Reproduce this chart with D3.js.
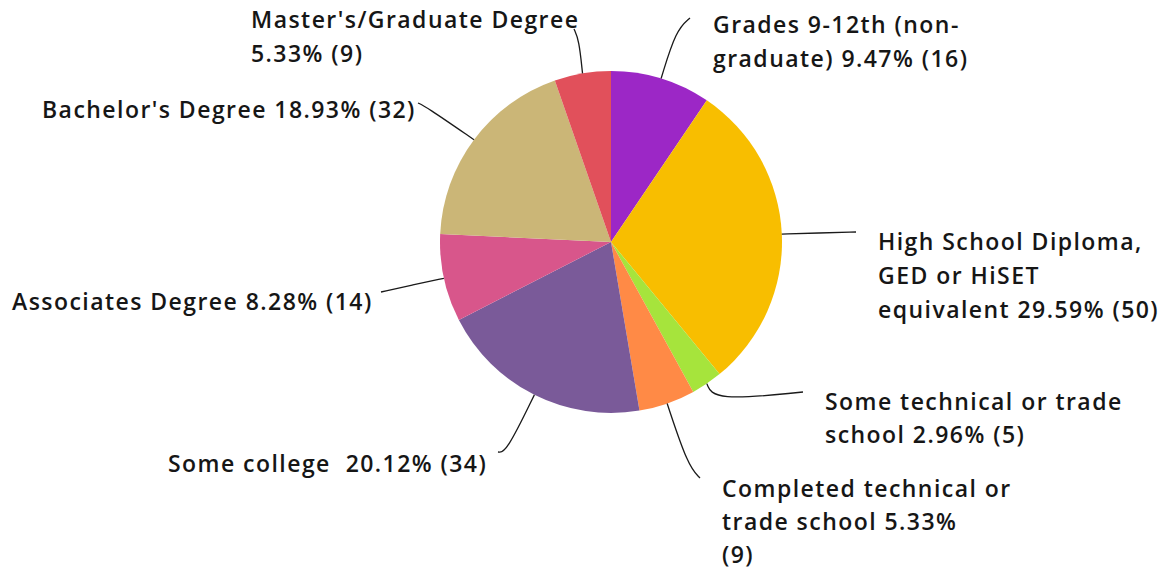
<!DOCTYPE html>
<html>
<head>
<meta charset="utf-8">
<script src="https://cdn.jsdelivr.net/npm/d3@7.9.0/dist/d3.min.js"></script>
<style>
  html, body { margin: 0; padding: 0; background: #fff; }
  svg { display: block; }
  .label { font-family: "Open Sans", "Noto Sans", sans-serif; font-weight: 600; font-size: 23px; letter-spacing: 1.45px; fill: #161616; }
  .leader { fill: none; stroke: #1a1a1a; stroke-width: 1.3; }
</style>
</head>
<body>
<svg id="chart" width="1173" height="569"></svg>
<script>
// Education level, clockwise from 12 o'clock
const categories = [
  'Grades 9-12th (non-graduate)',
  'High School Diploma, GED or HiSET equivalent',
  'Some technical or trade school',
  'Completed technical or trade school',
  'Some college',
  'Associates Degree',
  "Bachelor's Degree",
  "Master's/Graduate Degree",
];
const counts = [16, 50, 5, 9, 34, 14, 32, 9];
const percents = ['9.47%', '29.59%', '2.96%', '5.33%', '20.12%', '8.28%', '18.93%', '5.33%'];

// label text as wrapped in the original
const labelLines = [
  ['Grades 9-12th (non-', 'graduate) 9.47% (16)'],
  ['High School Diploma,', 'GED or HiSET', 'equivalent 29.59% (50)'],
  ['Some technical or trade', 'school 2.96% (5)'],
  ['Completed technical or', 'trade school 5.33%', '(9)'],
  ['Some college  20.12% (34)'],
  ['Associates Degree 8.28% (14)'],
  ["Bachelor's Degree 18.93% (32)"],
  ["Master's/Graduate Degree", '5.33% (9)'],
];

const colors = ['#9c27c6', '#f8be00', '#a6e43c', '#ff8a46', '#7a5a99', '#d8568b', '#cbb677', '#e1505b'];

// label placement: text x, first baseline, line step, leader elbow and end
const labelLayout = [
  { x: 713, y: 33, dy: 34, elbow: [676, 30], end: [690, 18] },
  { x: 878, y: 250, dy: 34, elbow: [819, 233], end: [856, 232] },
  { x: 825, y: 410, dy: 33, elbow: [714, 401], end: [803, 392] },
  { x: 722, y: 497, dy: 33, elbow: [688, 466], end: [700, 478] },
  { x: 168, y: 472, dy: 34, elbow: [506, 453], end: [498, 452] },
  { x: 12, y: 310, dy: 34, elbow: [412, 285], end: [381, 292] },
  { x: 42, y: 118, dy: 34, elbow: [425, 106], end: [418, 103] },
  { x: 251, y: 28, dy: 34, elbow: [579, 40], end: [574, 29] },
];

const cx = 611, cy = 242, radius = 171;

const data = categories.map((c, i) => ({ category: c, value: counts[i], pct: percents[i], i }));

const svg = d3.select('#chart');
const g = svg.append('g').attr('transform', `translate(${cx},${cy})`);

const pie = d3.pie().value((d) => d.value).sort(null);
const arc = d3.arc().innerRadius(0).outerRadius(radius);
const arcs = pie(data);

g.selectAll('path.slice')
  .data(arcs)
  .join('path')
  .attr('class', 'slice')
  .attr('d', arc)
  .attr('fill', (d) => colors[d.data.i]);

const leaderLine = d3.line().curve(d3.curveBasis);

arcs.forEach((d) => {
  const lay = labelLayout[d.data.i];
  const mid = (d.startAngle + d.endAngle) / 2;
  const start = [cx + radius * Math.sin(mid), cy - radius * Math.cos(mid)];
  svg.append('path')
    .attr('class', 'leader')
    .attr('d', leaderLine([start, lay.elbow, lay.end]));

  const t = svg.append('text')
    .attr('class', 'label')
    .attr('x', lay.x)
    .attr('y', lay.y);
  labelLines[d.data.i].forEach((line, k) => {
    t.append('tspan')
      .attr('x', lay.x)
      .attr('y', lay.y + k * lay.dy)
      .attr('xml:space', 'preserve')
      .style('white-space', 'pre')
      .text(line);
  });
});
</script>
</body>
</html>
